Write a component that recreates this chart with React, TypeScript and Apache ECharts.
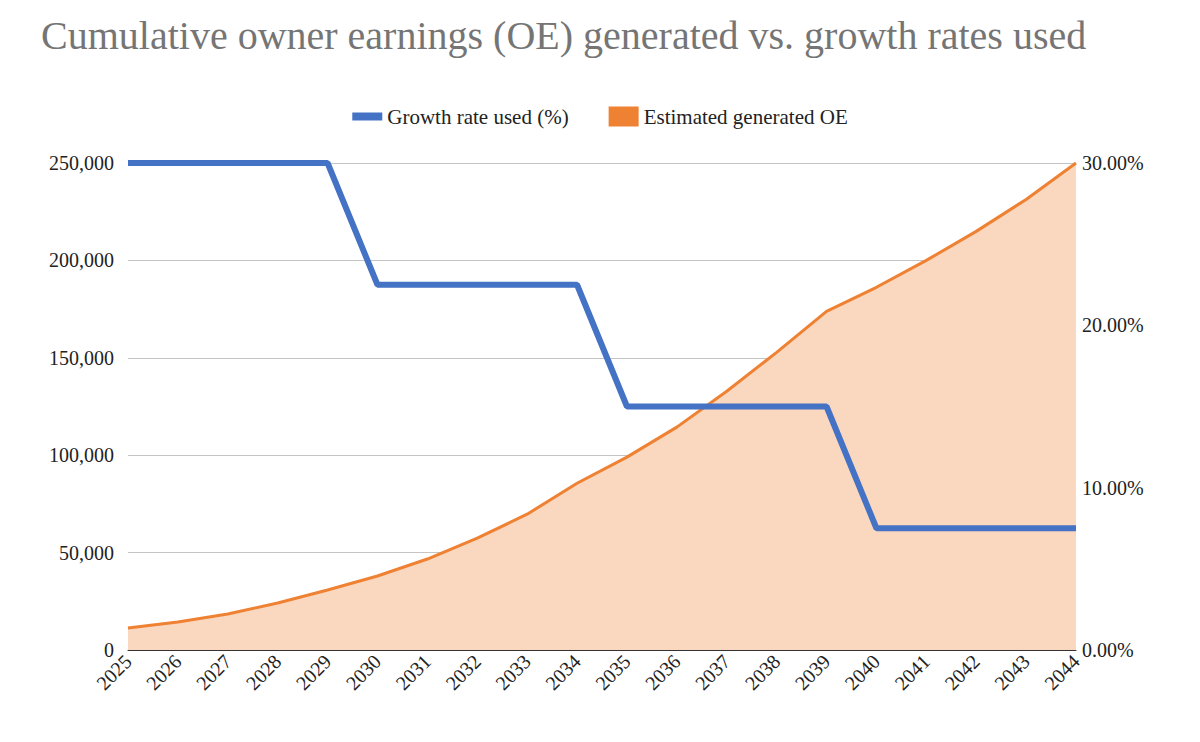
import { useEffect, useRef } from 'react';
import * as echarts from 'echarts';

const years = ['2025', '2026', '2027', '2028', '2029', '2030', '2031', '2032', '2033', '2034',
  '2035', '2036', '2037', '2038', '2039', '2040', '2041', '2042', '2043', '2044'];
const growthRate = [30, 30, 30, 30, 30, 22.5, 22.5, 22.5, 22.5, 22.5,
  15, 15, 15, 15, 15, 7.5, 7.5, 7.5, 7.5, 7.5];
const generatedOE = [11300, 14400, 18500, 24100, 30800, 38000, 46700, 57400, 69700, 85600,
  99000, 114400, 132800, 152800, 173800, 186200, 200000, 214900, 231300, 250000];

const font = '"Liberation Serif", "DejaVu Serif", serif';

export default function App() {
  const ref = useRef<HTMLDivElement | null>(null);

  useEffect(() => {
    document.body.style.margin = '0';
    if (!ref.current) return undefined;
    const chart = echarts.init(ref.current, undefined, { renderer: 'svg' });
    chart.setOption({
      animation: false,
      title: {
        text: 'Cumulative owner earnings (OE) generated vs. growth rates used',
        left: 36,
        top: 10,
        textStyle: { fontFamily: font, fontSize: 40, fontWeight: 'normal', color: '#757575' }
      },
      legend: {
        top: 101,
        left: 'center',
        itemGap: 40,
        textStyle: { fontFamily: font, fontSize: 21, color: '#222' },
        data: [
          { name: 'Growth rate used (%)', icon: 'path://M0,0H30V8H0Z', itemStyle: { color: '#4472c4' } },
          { name: 'Estimated generated OE', icon: 'rect', itemStyle: { color: '#ef8133' } }
        ],
        itemWidth: 30,
        itemHeight: 20
      },
      grid: { left: 128, right: 124, top: 163, bottom: 92 },
      xAxis: {
        type: 'category',
        data: years,
        boundaryGap: false,
        axisLine: { lineStyle: { color: '#333' } },
        axisTick: { show: false },
        axisLabel: { rotate: 45, interval: 0, fontFamily: font, fontSize: 20, color: '#222', margin: 8 }
      },
      yAxis: [
        {
          type: 'value',
          min: 0,
          max: 250000,
          interval: 50000,
          axisLabel: {
            fontFamily: font, fontSize: 20, color: '#222', margin: 14,
            formatter: (v: number) => v.toLocaleString('en-US')
          },
          splitLine: { lineStyle: { color: '#c4c4c4' } }
        },
        {
          type: 'value',
          min: 0,
          max: 30,
          interval: 10,
          axisLabel: {
            fontFamily: font, fontSize: 20, color: '#222', margin: 6,
            formatter: (v: number) => `${v.toFixed(2)}%`
          },
          splitLine: { show: false }
        }
      ],
      series: [
        {
          name: 'Estimated generated OE',
          type: 'line',
          data: generatedOE,
          showSymbol: false,
          lineStyle: { width: 3, color: '#ef8133' },
          itemStyle: { color: '#ef8133' },
          areaStyle: { color: '#fad7bf', opacity: 1 },
          z: 1
        },
        {
          name: 'Growth rate used (%)',
          type: 'line',
          yAxisIndex: 1,
          data: growthRate,
          showSymbol: false,
          lineStyle: { width: 6, color: '#4472c4' },
          itemStyle: { color: '#4472c4' },
          z: 2
        }
      ]
    });
    return () => chart.dispose();
  }, []);

  return <div ref={ref} style={{ width: 1200, height: 742 }} />;
}
